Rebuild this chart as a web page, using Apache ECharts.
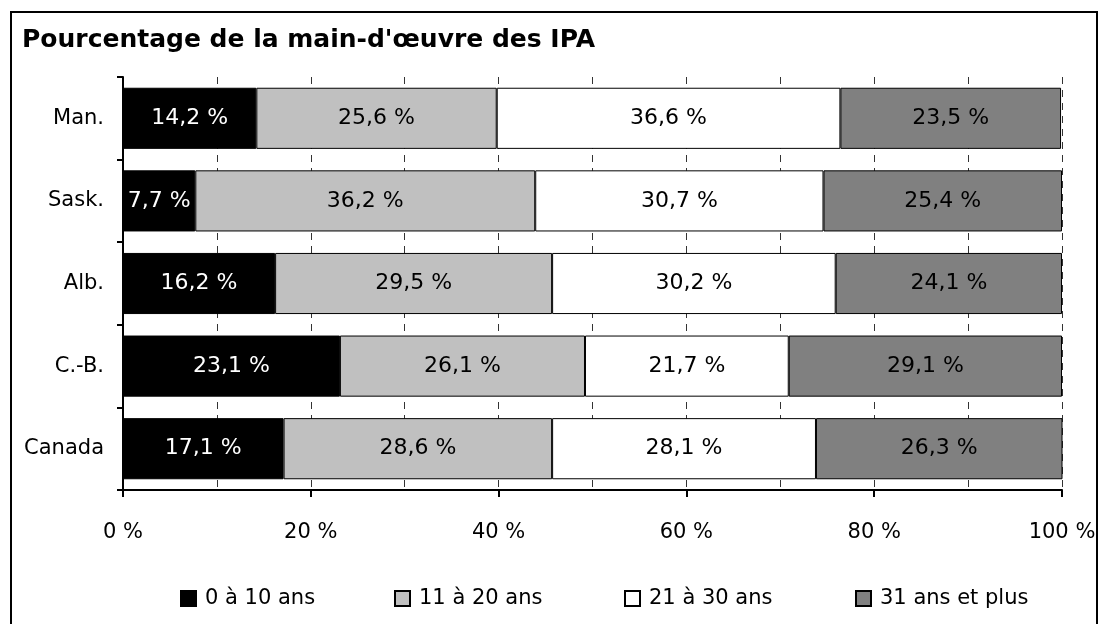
<!DOCTYPE html>
<html>
<head>
<meta charset="utf-8">
<script src="https://cdn.jsdelivr.net/npm/echarts@6/dist/echarts.min.js"></script>
<style>
  html, body { margin: 0; padding: 0; background: #fff; }
  #main { width: 1105px; height: 624px; }
</style>
</head>
<body>
<div id="main"></div>
<script>
// provinces, top to bottom
var provinces = ['Man.', 'Sask.', 'Alb.', 'C.-B.', 'Canada'];
var seriesNames = ['0 à 10 ans', '11 à 20 ans', '21 à 30 ans', '31 ans et plus'];
var ans0a10 = [14.2, 7.7, 16.2, 23.1, 17.1];
var ans11a20 = [25.6, 36.2, 29.5, 26.1, 28.6];
var ans21a30 = [36.6, 30.7, 30.2, 21.7, 28.1];
var ans31plus = [23.5, 25.4, 24.1, 29.1, 26.3];
var couleurs = ['#000000', '#c0c0c0', '#ffffff', '#808080'];
var couleursTexte = ['#ffffff', '#000000', '#000000', '#000000'];

var police = 'DejaVu Sans';

function pct(v) {
    return String(v).replace('.', ',') + ' %';
}

var chart = echarts.init(document.getElementById('main'));

var valeurs = [ans0a10, ans11a20, ans21a30, ans31plus];
var series = valeurs.map(function (vals, i) {
    return {
        name: seriesNames[i],
        type: 'bar',
        stack: 'total',
        barCategoryGap: '26%',
        data: vals,
        itemStyle: { color: couleurs[i], borderColor: '#000', borderWidth: 1 },
        label: {
            show: true,
            position: 'inside',
            color: couleursTexte[i],
            fontFamily: police,
            fontSize: 22,
            formatter: function (p) { return pct(p.value); }
        }
    };
});

// une légende par élément pour placer chaque case comme dans l'original
var legendLeft = [175, 389, 619, 850];
var legends = seriesNames.map(function (nom, i) {
    return {
        data: [nom],
        left: legendLeft[i],
        top: 583,
        itemWidth: 15,
        itemHeight: 15,
        itemGap: 0,
        icon: 'rect',
        textStyle: { fontFamily: police, fontSize: 21, color: '#000', padding: [0, 0, 0, 4] }
    };
});

var option = {
    animation: false,
    title: {
        text: "Pourcentage de la main-d'œuvre des IPA",
        left: 17,
        top: 23,
        textStyle: { fontFamily: police, fontWeight: 'bold', fontSize: 25, color: '#000' }
    },
    legend: legends,
    grid: { left: 123, right: 43, top: 77, bottom: 134 },
    xAxis: {
        type: 'value',
        min: 0,
        max: 100,
        interval: 20,
        axisLine: { show: true, lineStyle: { color: '#000', width: 2 } },
        axisTick: { show: true, length: 7, lineStyle: { color: '#000', width: 2 } },
        axisLabel: {
            margin: 32,
            fontFamily: police,
            fontSize: 21,
            color: '#000',
            formatter: function (v) { return v + ' %'; }
        },
        splitLine: { show: true, lineStyle: { color: '#333', type: [7, 6], width: 1 } },
        minorTick: { show: false, splitNumber: 2 },
        minorSplitLine: { show: true, lineStyle: { color: '#333', type: [7, 6], width: 1 } }
    },
    yAxis: {
        type: 'category',
        data: provinces,
        inverse: true,
        axisLine: { show: true, lineStyle: { color: '#000', width: 2 } },
        axisTick: { show: true, length: 6, lineStyle: { color: '#000', width: 2 } },
        axisLabel: { margin: 19, fontFamily: police, fontSize: 21, color: '#000' }
    },
    graphic: [{
        type: 'rect',
        shape: { x: 11, y: 12, width: 1086, height: 630 },
        style: { fill: 'none', stroke: '#000', lineWidth: 2 },
        silent: true
    }],
    series: series
};

chart.setOption(option);
</script>
</body>
</html>
